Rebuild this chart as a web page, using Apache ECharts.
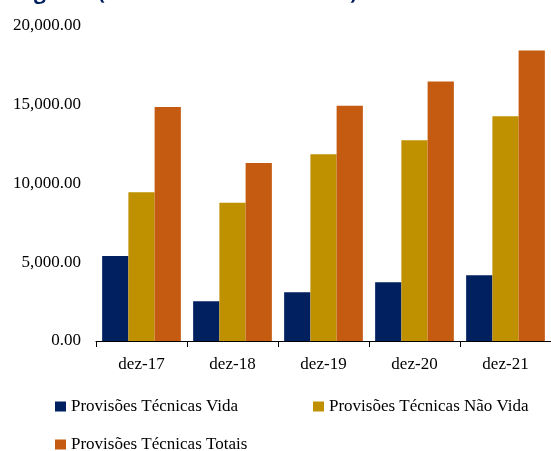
<!DOCTYPE html>
<html>
<head>
<meta charset="utf-8">
<script src="https://cdn.jsdelivr.net/npm/echarts@6/dist/echarts.min.js"></script>
<style>html,body{margin:0;padding:0;background:#fff;}#c{width:551px;height:451px;}</style>
</head>
<body>
<div id="c"></div>
<script>
const categories = ['dez-17', 'dez-18', 'dez-19', 'dez-20', 'dez-21'];
const vida = [5400, 2520, 3090, 3730, 4170];
const naoVida = [9450, 8780, 11850, 12740, 14270];
const totais = [14850, 11300, 14940, 16470, 18440];
const yTicks = [0, 5000, 10000, 15000, 20000];
const seriesNames = ['Provisões Técnicas Vida', 'Provisões Técnicas Não Vida', 'Provisões Técnicas Totais'];
const colors = ['#002060', '#BF9000', '#C55A11'];

const font = 'Liberation Serif';
const chart = echarts.init(document.getElementById('c'), null, {renderer: 'canvas'});
function fmt(v) {
  return v.toLocaleString('en-US', {minimumFractionDigits: 2, maximumFractionDigits: 2});
}
const legendBase = {
  itemWidth: 11, itemHeight: 10, icon: 'rect',
  textStyle: {fontFamily: font, fontSize: 17, color: '#000'},
  selectedMode: false, padding: 0
};
chart.setOption({
  animation: false,
  color: colors,
  textStyle: {fontFamily: font, fontSize: 17, color: '#000'},
  title: {
    text: 'Seguros (Em Milhões de Meticais)',
    left: 10, top: -17, padding: 0,
    textStyle: {fontFamily: 'Open Sans', fontWeight: 'bold', fontSize: 21, color: '#002060'}
  },
  grid: {left: 96, right: -1, top: 26, bottom: 110, containLabel: false},
  legend: [
    Object.assign({}, legendBase, {data: [seriesNames[0]], left: 55, top: 398}),
    Object.assign({}, legendBase, {data: [seriesNames[1]], left: 313, top: 398}),
    Object.assign({}, legendBase, {data: [seriesNames[2]], left: 55, top: 436})
  ],
  xAxis: {
    type: 'category',
    data: categories,
    axisLine: {lineStyle: {color: '#000', width: 1}},
    axisTick: {show: true, length: 6, lineStyle: {color: '#000'}},
    axisLabel: {fontFamily: font, fontSize: 17, color: '#000', margin: 15}
  },
  yAxis: {
    type: 'value',
    min: yTicks[0], max: yTicks[yTicks.length - 1], interval: yTicks[1] - yTicks[0],
    axisLine: {show: false},
    axisTick: {show: false},
    splitLine: {show: false},
    axisLabel: {fontFamily: font, fontSize: 17, color: '#000', margin: 15, formatter: fmt}
  },
  series: [
    {name: seriesNames[0], type: 'bar', data: vida, barGap: '0%', barCategoryGap: '13.5%'},
    {name: seriesNames[1], type: 'bar', data: naoVida, barGap: '0%', barCategoryGap: '13.5%'},
    {name: seriesNames[2], type: 'bar', data: totais, barGap: '0%', barCategoryGap: '13.5%'}
  ]
});
</script>
</body>
</html>
